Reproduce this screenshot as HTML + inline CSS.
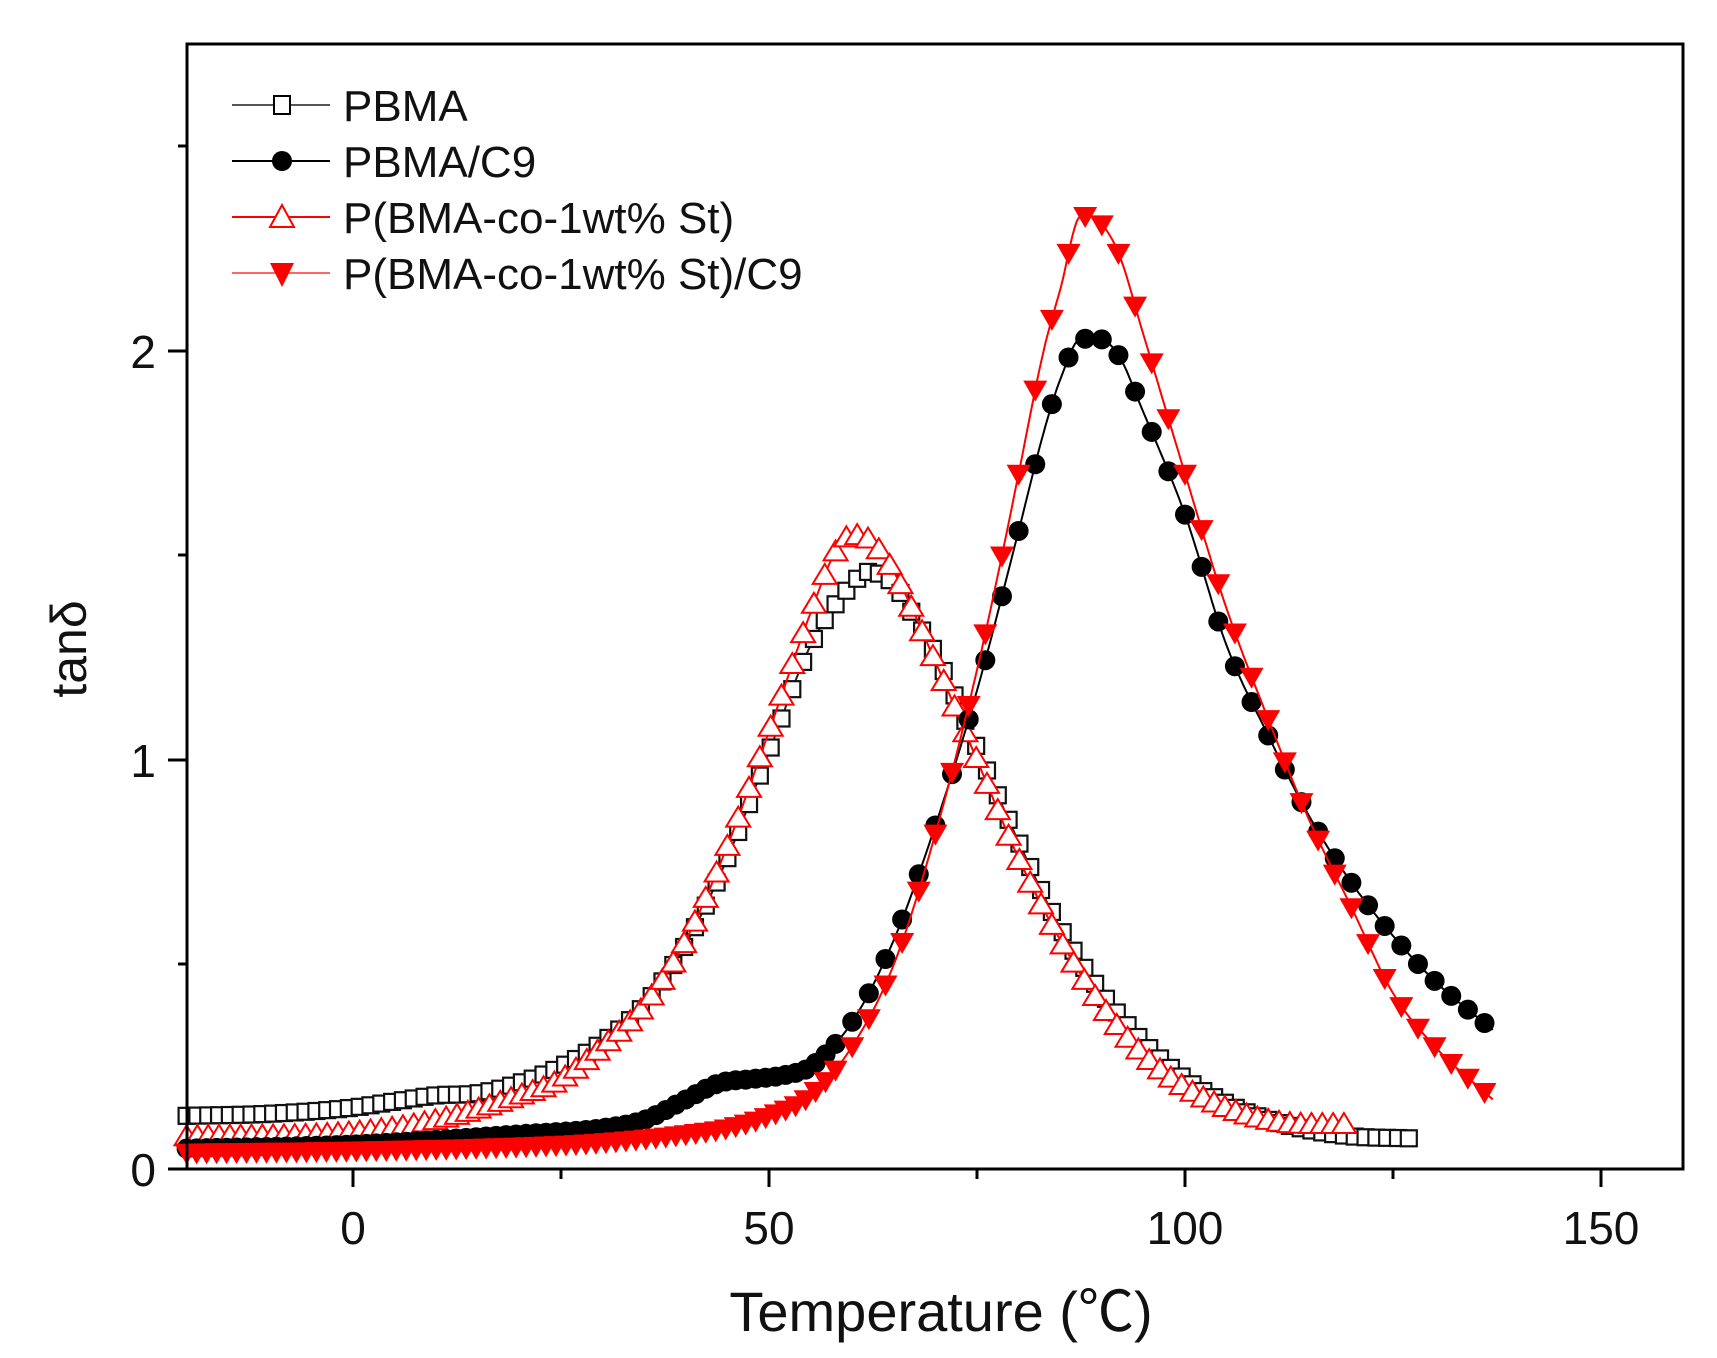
<!DOCTYPE html>
<html><head><meta charset="utf-8"><style>
html,body{margin:0;padding:0;background:#fff;}
svg{display:block;}
text{font-family:"Liberation Sans","Noto Sans CJK SC",sans-serif;}
</style></head><body>
<svg id="s" width="1717" height="1358" viewBox="0 0 1717 1358" xmlns="http://www.w3.org/2000/svg">
<rect width="1717" height="1358" fill="#fff"/>
<g id="data"></g>
<rect x="187" y="44" width="1496" height="1125" fill="none" stroke="#000" stroke-width="3"/>
<g stroke="#000" stroke-width="3">
<line x1="353" y1="1169" x2="353" y2="1187"/><line x1="769" y1="1169" x2="769" y2="1187"/>
<line x1="1185" y1="1169" x2="1185" y2="1187"/><line x1="1601" y1="1169" x2="1601" y2="1187"/>
<line x1="561" y1="1169" x2="561" y2="1179"/><line x1="977" y1="1169" x2="977" y2="1179"/>
<line x1="1393" y1="1169" x2="1393" y2="1179"/>
<line x1="168" y1="1169" x2="187" y2="1169"/><line x1="168" y1="760" x2="187" y2="760"/>
<line x1="168" y1="351" x2="187" y2="351"/>
<line x1="178" y1="964" x2="187" y2="964"/><line x1="178" y1="555" x2="187" y2="555"/>
<line x1="178" y1="146" x2="187" y2="146"/>
</g>
<g font-size="46" fill="#111">
<text x="353" y="1244" text-anchor="middle">0</text>
<text x="769" y="1244" text-anchor="middle">50</text>
<text x="1185" y="1244" text-anchor="middle">100</text>
<text x="1601" y="1244" text-anchor="middle">150</text>
<text x="156" y="1186" text-anchor="end">0</text>
<text x="156" y="777" text-anchor="end">1</text>
<text x="156" y="368" text-anchor="end">2</text>
</g>
<text x="941" y="1331" font-size="56" text-anchor="middle" fill="#111">Temperature (℃)</text>
<text transform="translate(86,649) rotate(-90)" font-size="50" text-anchor="middle" fill="#111">tanδ</text>
<g font-size="44" fill="#111">
<text x="343" y="121">PBMA</text>
<text x="343" y="177">PBMA/C9</text>
<text x="343" y="233">P(BMA-co-1wt% St)</text>
<text x="343" y="289">P(BMA-co-1wt% St)/C9</text>
</g>
<g stroke-width="2">
<line x1="232" y1="105" x2="330" y2="105" stroke="#555"/>
<rect x="274" y="96" width="16" height="18" fill="#fff" stroke="#000"/>
<line x1="232" y1="161" x2="330" y2="161" stroke="#000"/>
<circle cx="282" cy="161" r="10" fill="#000"/>
<line x1="232" y1="217" x2="330" y2="217" stroke="#f00"/>
<polygon points="282,205 294,227 270,227" fill="#fff" stroke="#f00"/>
<line x1="232" y1="273" x2="330" y2="273" stroke="#f66"/>
<polygon points="270,263 294,263 282,287" fill="#f00"/>
</g>
</svg>
<script>
(function(){
var NS="http://www.w3.org/2000/svg",g=document.getElementById("data");
function X(t){return 353+8.32*t;} function Y(v){return 1169-409*v;}
function interp(p){
  var n=p.length,m=[];
  for(var i=0;i<n;i++){
    if(i==0)m.push((p[1][1]-p[0][1])/(p[1][0]-p[0][0]));
    else if(i==n-1)m.push((p[n-1][1]-p[n-2][1])/(p[n-1][0]-p[n-2][0]));
    else{var d0=(p[i][1]-p[i-1][1])/(p[i][0]-p[i-1][0]),d1=(p[i+1][1]-p[i][1])/(p[i+1][0]-p[i][0]);
      m.push(d0*d1<=0?0:(d0+d1)/2);}
  }
  return function(t){
    for(var i=0;i<n-1;i++){ if(t<=p[i+1][0]||i==n-2){
      var h=p[i+1][0]-p[i][0],s=(t-p[i][0])/h,s2=s*s,s3=s2*s;
      return (2*s3-3*s2+1)*p[i][1]+(s3-2*s2+s)*h*m[i]+(-2*s3+3*s2)*p[i+1][1]+(s3-s2)*h*m[i+1];}}
  };
}
function el(n,a){var e=document.createElementNS(NS,n);for(var k in a)e.setAttribute(k,a[k]);g.appendChild(e);return e;}
function series(pts,t0,t1,stepf,color,marker){
  var f=interp(pts),ts=[],t=t0;
  while(t<=t1+1e-6){ts.push(t);t+=stepf(t);}
  var d="";
  for(var t2=t0;t2<=t1;t2+=0.25)d+=(d?"L":"M")+X(t2).toFixed(1)+","+Y(f(t2)).toFixed(1);
  el("path",{d:d,fill:"none",stroke:color,"stroke-width":2});
  ts.forEach(function(t){var x=X(t),y=Y(f(t));marker(x,y);});
}
var sq=[[-20,0.13],[-10,0.135],[0,0.15],[5,0.165],[10,0.18],[15,0.185],[20,0.21],[25,0.25],[30,0.31],[35,0.40],[40,0.55],[45,0.76],[50,1.02],[55,1.28],[60,1.43],[62,1.46],[65,1.43],[68,1.33],[70,1.26],[75,1.03],[80,0.80],[85,0.59],[90,0.43],[95,0.31],[100,0.22],[105,0.16],[110,0.12],[115,0.095],[120,0.08],[127,0.075]];
var tu=[[-20,0.08],[0,0.09],[10,0.12],[20,0.18],[25,0.22],[30,0.30],[35,0.40],[40,0.56],[45,0.79],[50,1.07],[55,1.36],[58,1.51],[60,1.55],[62,1.54],[65,1.46],[70,1.24],[75,1.00],[80,0.76],[85,0.56],[90,0.40],[95,0.28],[100,0.20],[105,0.15],[110,0.12],[115,0.11],[120,0.11]];
var ci=[[-20,0.05],[0,0.06],[20,0.085],[30,0.10],[35,0.12],[40,0.17],[44,0.21],[48,0.22],[52,0.23],[55,0.25],[60,0.36],[65,0.56],[70,0.84],[75,1.17],[80,1.56],[83,1.80],[85,1.93],[87.5,2.03],[89.5,2.03],[92,1.99],[95,1.85],[100,1.60],[105,1.28],[110,1.06],[115,0.86],[120,0.70],[125,0.57],[130,0.46],[137,0.34]];
var td=[[-20,0.04],[0,0.045],[20,0.055],[30,0.065],[40,0.085],[45,0.10],[50,0.13],[55,0.18],[60,0.30],[65,0.50],[70,0.82],[75,1.22],[78,1.50],[80,1.70],[83,2.00],[85,2.15],[87.5,2.33],[89.5,2.32],[92,2.24],[95,2.04],[100,1.70],[105,1.37],[110,1.10],[115,0.85],[120,0.64],[125,0.43],[130,0.30],[137,0.17]];
series(sq,-20,127,function(){return 1.3;},"#222",function(x,y){el("rect",{x:x-8,y:y-8,width:16,height:16,fill:"#fff",stroke:"#111","stroke-width":2.2});});
series(tu,-20,120,function(){return 1.3;},"#f00",function(x,y){el("polygon",{points:(x)+","+(y-11)+" "+(x+12)+","+(y+9)+" "+(x-12)+","+(y+9),fill:"#fff",stroke:"#f00","stroke-width":2});});
series(ci,-20,137,function(t){return t<58?1.2:2.0;},"#000",function(x,y){el("circle",{cx:x,cy:y,r:10,fill:"#000"});});
series(td,-20,137,function(t){return t<58?1.2:2.0;},"#f00",function(x,y){el("polygon",{points:(x-12)+","+(y-9)+" "+(x+12)+","+(y-9)+" "+x+","+(y+12),fill:"#f00"});});
})();
</script>
</body></html>
